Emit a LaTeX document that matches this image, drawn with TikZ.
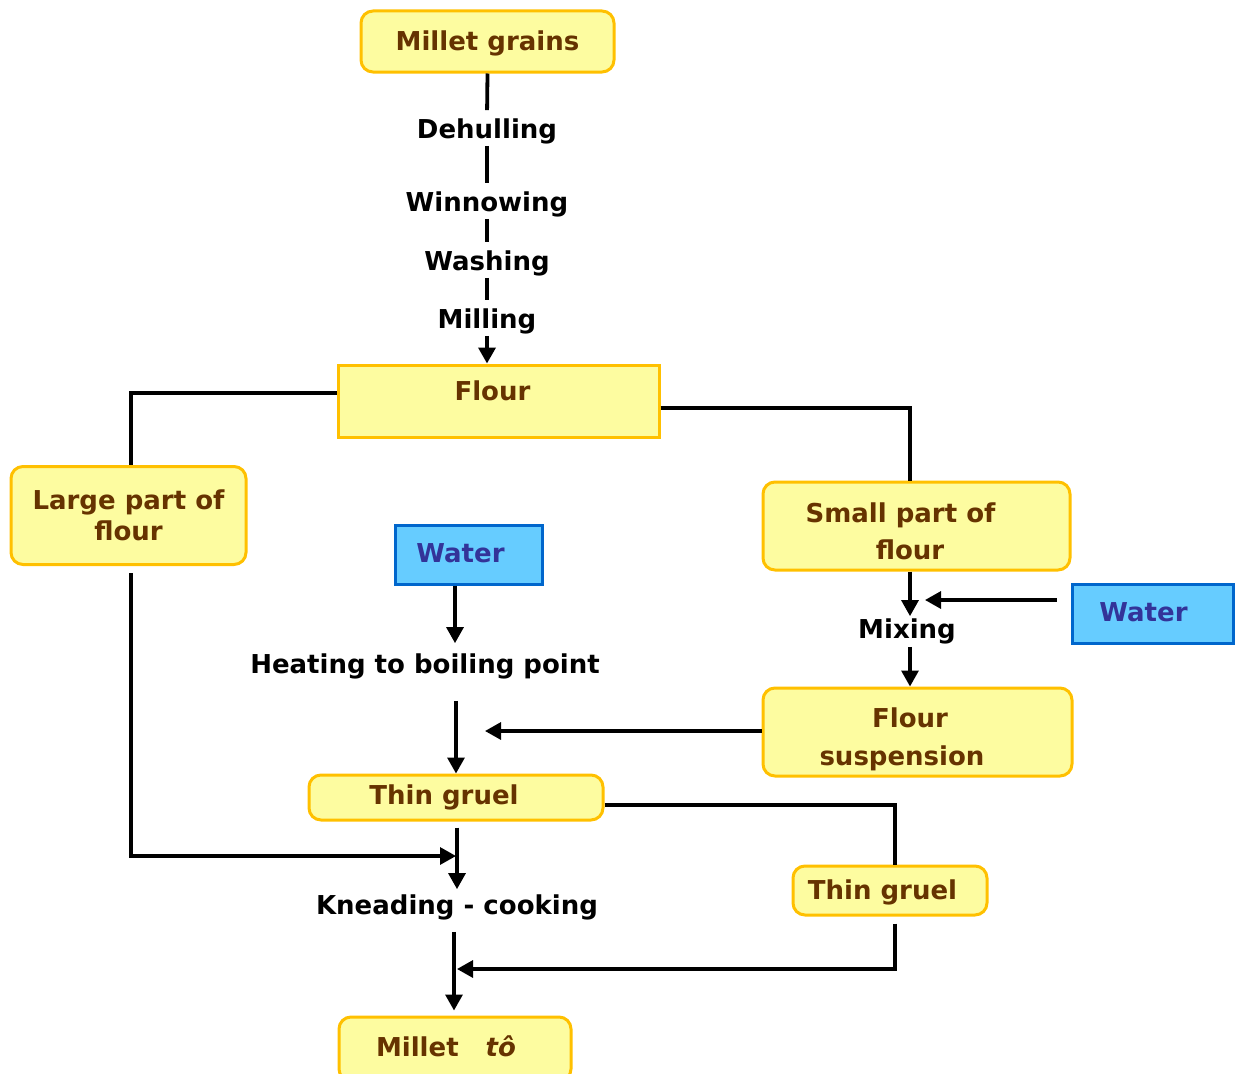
\documentclass[tikz,border=0pt]{standalone}
\usepackage{fontspec}
\setmainfont{DejaVu Sans}
\usetikzlibrary{arrows.meta}
\definecolor{boxfill}{RGB}{253,252,160}
\definecolor{boxline}{RGB}{255,192,0}
\definecolor{boxtext}{RGB}{102,51,0}
\definecolor{waterfill}{RGB}{102,204,255}
\definecolor{waterline}{RGB}{0,102,204}
\definecolor{watertext}{RGB}{51,51,153}
\begin{document}
\begin{tikzpicture}[x=1pt,y=-1pt,
  font=\fontsize{26}{31}\selectfont\bfseries,
  stage/.style={draw=boxline, fill=boxfill, line width=3pt, rounded corners=12pt,
    text=boxtext, align=center, inner sep=0pt},
  plainstage/.style={stage, rounded corners=0pt},
  caption/.style={text=boxtext, align=center, inner sep=0pt},
  water/.style={draw=waterline, fill=waterfill, line width=3pt, text=watertext, inner sep=0pt,
    text height=15pt, text depth=0pt},
  proc/.style={text=black, inner xsep=2pt, inner ysep=2pt},
  chain/.style={line width=3.8pt},
  link/.style={line width=3.2pt},
  flow/.style={line width=3.2pt, -{Triangle[length=16pt,width=17pt]}},
]
\useasboundingbox (0,0) rectangle (1236,1073);

% boxes
\node[stage, minimum width=253pt, minimum height=61pt, text height=23.8pt, text depth=6.1pt]
  (grains) at (487.5,41.5) {Millet grains};
\node[plainstage, minimum width=321pt, minimum height=72pt, text height=20pt, text depth=21pt]
  (flour) at (498.5,401) {Flour\kern12pt};
\node[stage, minimum width=235pt, minimum height=98pt] (large) at (128.5,515.5) {Large part of\\flour};
\node[stage, minimum width=307pt, minimum height=88pt,
  label={[caption, yshift=-5pt, font=\fontsize{26}{37}\selectfont\bfseries]center:{Small part of\kern32pt\\flour\kern13pt}}]
  (small) at (916.5,526) {};
\node[stage, minimum width=309pt, minimum height=88pt,
  label={[caption, yshift=-7pt, font=\fontsize{26}{38}\selectfont\bfseries]center:{Flour\kern15pt\\suspension\kern31pt}}]
  (susp) at (917.5,732) {};
\node[stage, minimum width=294pt, minimum height=45pt] (gruel) at (456,797.5) {Thin gruel\kern24pt};
\node[stage, minimum width=194pt, minimum height=49pt, text height=23.8pt, text depth=6.1pt]
  (gruelb) at (890,890.5) {Thin gruel\kern15pt};
\node[stage, minimum width=232pt, minimum height=64pt, text height=26pt, text depth=12pt]
  (tto) at (455,1049) {Millet\kern27pt\textit{tô}\kern18pt};
\node[water, minimum width=147pt, minimum height=59pt] (waterl) at (468.5,554.5) {Water\kern16pt};
\node[water, minimum width=161pt, minimum height=59pt] (waterr) at (1152.5,613.5) {Water\kern18pt};

% process steps
\node[proc] (dehull) at (487,131) {Dehulling};
\node[proc] (winnow) at (487,204) {Winnowing};
\node[proc] (wash) at (487,263) {Washing};
\node[proc] (mill) at (487,321) {Milling};
\node[proc] (heat) at (425,666) {Heating to boiling point};
\node[proc] (mix) at (907,631) {Mixing};
\node[proc] (knead) at (457,907) {Kneading - cooking};

% free ends of incoming arrows
\coordinate (mixin) at (925,600);
\coordinate (suspin) at (485,731);
\coordinate (kin) at (456,856);
\coordinate (kinb) at (457,969);
\coordinate (kout) at (454,907);

% grain preparation chain
\draw[chain, shorten >=6pt] (grains.south) -- (dehull.north);
\draw[chain, shorten >=6pt] (dehull.south) -- (winnow.north);
\draw[chain, shorten >=6pt] (winnow.south) -- (wash.north);
\draw[chain, shorten >=6pt] (wash.south) -- (mill.north);
\draw[flow, line width=3.6pt] (mill.south) -- (mill.south |- flour.north);

% splitting the flour
\draw[link] ([yshift=8pt]flour.west) -| ([xshift=2.5pt]large.north);
\draw[link] ([yshift=-7pt]flour.east) -| ([xshift=-6.5pt]small.north);

% small part: mixing into a suspension
\draw[flow] ([xshift=-6.5pt]small.south) -- ([xshift=-6.5pt]small.south |- mix.north);
\draw[flow] ([xshift=-14pt,yshift=13.5pt]waterr.west) -- (mixin);
\draw[flow, shorten <=1pt] ([xshift=3pt]mix.south) -- ([xshift=-7.5pt]susp.north);

% water heated, suspension added, thin gruel
\draw[flow, shorten >=8pt] ([xshift=-13.5pt]waterl.south) -- ([xshift=-13.5pt]waterl.south |- heat.north);
\draw[flow, shorten <=20pt] (gruel.north |- heat.south) -- (gruel.north);
\draw[flow] ([yshift=1pt]susp.west) -- (suspin);

% kneading and cooking
\draw[flow, shorten <=6pt, shorten >=3pt] ([xshift=1pt]gruel.south) -- ([xshift=1pt]gruel.south |- knead.north);
\draw[flow] ([shift={(2.5pt,-7pt)}]large.south) |- (kin);
\draw[link] ([yshift=-7.5pt]gruel.east) -| ([xshift=5pt]gruelb.north);
\draw[flow] ([shift={(5pt,-7pt)}]gruelb.south) |- (kinb);
\draw[flow, shorten <=10pt, shorten >=5pt] (kout |- knead.south) -- (kout |- tto.north);
\end{tikzpicture}
\end{document}
